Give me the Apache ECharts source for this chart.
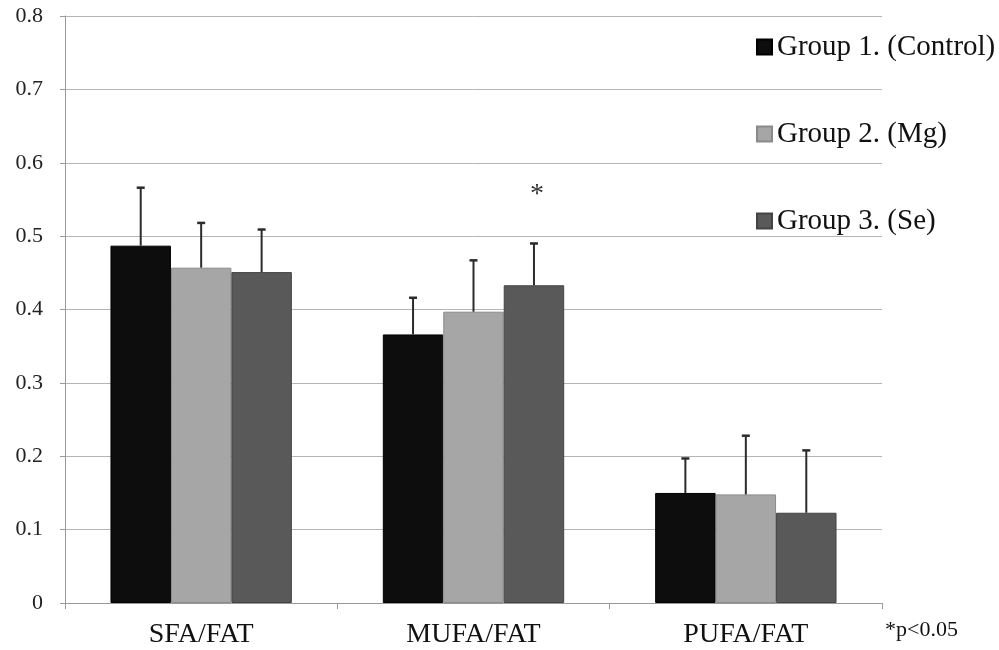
<!DOCTYPE html>
<html>
<head>
<meta charset="utf-8">
<script src="https://cdn.jsdelivr.net/npm/echarts@6/dist/echarts.min.js"></script>
<style>
html,body{margin:0;padding:0;background:#fff;}
#chart{width:999px;height:650px;}
</style>
</head>
<body>
<div id="chart"></div>
<script>
var categories = ['SFA/FAT', 'MUFA/FAT', 'PUFA/FAT'];
var groupNames = ['Group 1. (Control)', 'Group 2. (Mg)', 'Group 3. (Se)'];
var group1 = [0.487, 0.366, 0.150];
var group2 = [0.457, 0.397, 0.148];
var group3 = [0.451, 0.433, 0.123];
var group1Err = [0.566, 0.416, 0.197];
var group2Err = [0.518, 0.467, 0.228];
var group3Err = [0.509, 0.490, 0.208];
var group3Sig = ['', '*', ''];
var footnote = '*p<0.05';

var colors = ['#0d0d0d', '#a6a6a6', '#595959'];
var borders = ['#000000', '#8a8a8a', '#444444'];
var values = [group1, group2, group3];
var errs = [group1Err, group2Err, group3Err];
var sigs = [['', '', ''], ['', '', ''], group3Sig];
var serif = '"Liberation Serif", "Times New Roman", serif';
var gapRatio = 0.334;

var series = [];
values.forEach(function (vals, gi) {
  series.push({
    name: groupNames[gi],
    type: 'bar',
    data: vals,
    barGap: '0%',
    barCategoryGap: (gapRatio * 100) + '%',
    itemStyle: { color: colors[gi], borderColor: borders[gi], borderWidth: 1 },
    emphasis: { disabled: true },
    silent: true
  });
});
errs.forEach(function (ev, gi) {
  series.push({
    type: 'custom',
    silent: true,
    z: 5,
    data: ev.map(function (e, ci) { return [ci, values[gi][ci], e]; }),
    renderItem: function (params, api) {
      var ci = api.value(0);
      var base = api.coord([ci, api.value(1)]);
      var top = api.coord([ci, api.value(2)]);
      var band = api.size([1, 0])[0];
      var bw = band * (1 - gapRatio) / 3;
      var x = base[0] + (gi - 1) * bw;
      var style = { stroke: '#2b2b2b', lineWidth: 2 };
      var children = [
        { type: 'line', shape: { x1: x, y1: base[1], x2: x, y2: top[1] }, style: style },
        { type: 'line', shape: { x1: x - 4, y1: top[1], x2: x + 4, y2: top[1] }, style: { stroke: '#2b2b2b', lineWidth: 2.5 } }
      ];
      var s = sigs[gi][ci];
      if (s) {
        children.push({
          type: 'text',
          style: { text: s, x: x + 3, y: top[1] - 49, align: 'center', verticalAlign: 'middle',
                   font: '28px ' + serif, fill: '#333' }
        });
      }
      return { type: 'group', children: children };
    }
  });
});

var chart = echarts.init(document.getElementById('chart'));
chart.setOption({
  animation: false,
  backgroundColor: '#ffffff',
  grid: { left: 65, right: 117, top: 16, bottom: 47, containLabel: false },
  legend: {
    orient: 'vertical',
    left: 751,
    top: 27,
    itemWidth: 15,
    itemHeight: 15,
    itemGap: 57,
    icon: 'rect',
    data: groupNames,
    selectedMode: false,
    textStyle: { fontFamily: serif, fontSize: 29, color: '#111', lineHeight: 30 }
  },
  xAxis: {
    type: 'category',
    data: categories,
    axisLine: { lineStyle: { color: '#9a9a9a', width: 1 } },
    axisTick: { show: true, length: 6, lineStyle: { color: '#9a9a9a' } },
    axisLabel: { fontFamily: serif, fontSize: 28, color: '#111', margin: 18 }
  },
  yAxis: {
    type: 'value',
    min: 0,
    max: 0.8,
    interval: 0.1,
    axisLine: { show: true, lineStyle: { color: '#9a9a9a', width: 1 } },
    axisTick: { show: true, length: 5, lineStyle: { color: '#9a9a9a' } },
    axisLabel: { fontFamily: serif, fontSize: 22, color: '#222', margin: 22 },
    splitLine: { lineStyle: { color: '#b5b5b5', width: 1 } }
  },
  graphic: [{
    type: 'text',
    left: 885,
    top: 619,
    style: { text: footnote, font: '22px ' + serif, fill: '#111' }
  }],
  series: series
});
</script>
</body>
</html>
